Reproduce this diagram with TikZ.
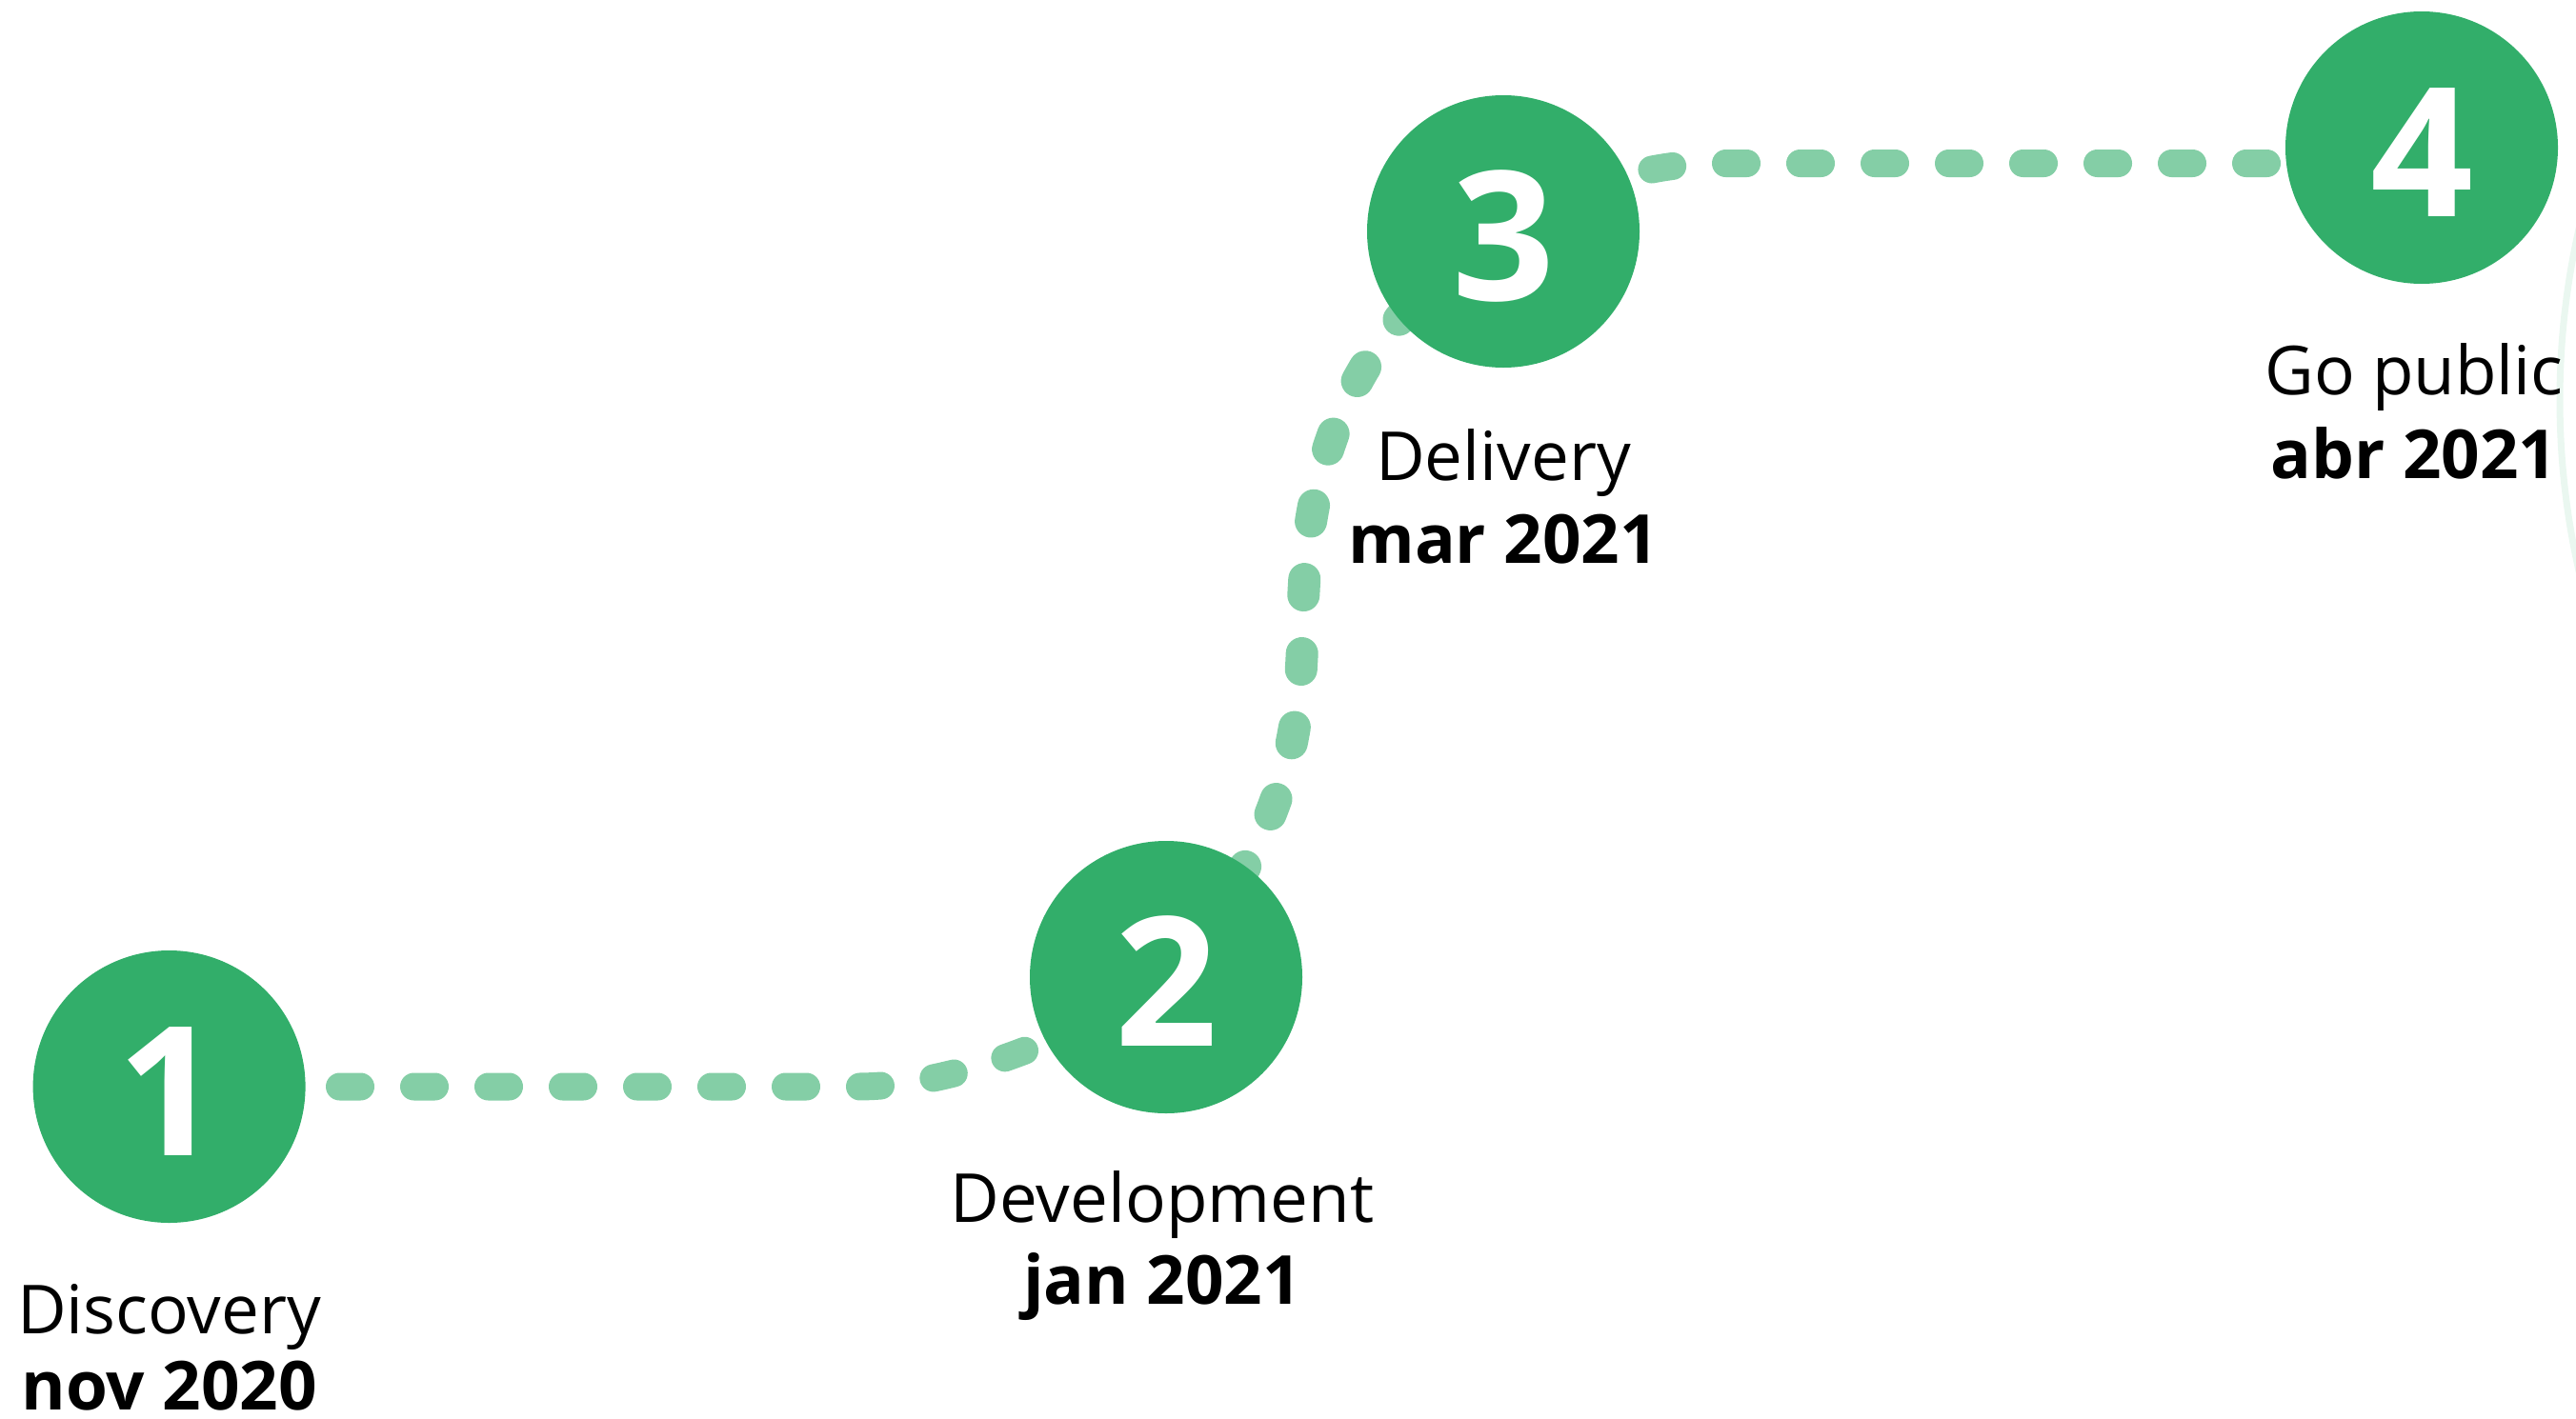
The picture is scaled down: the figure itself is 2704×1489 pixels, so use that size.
\documentclass[tikz,border=0pt]{standalone}
\usepackage{fontspec}
\setmainfont{Open Sans}
\usetikzlibrary{calc,backgrounds}
\definecolor{mygreen}{HTML}{32AE6A}
\definecolor{dashgreen}{HTML}{84CEA6}
\definecolor{faintgreen}{HTML}{EAF7F0}
\begin{document}
\begin{tikzpicture}[x=0.5pt,y=-0.5pt,
  stepcircle/.style={circle, fill=mygreen, minimum size=143pt, inner sep=0pt},
  numtxt/.style={text=white, font=\fontsize{94.5}{94.5}\selectfont\bfseries, anchor=base, inner sep=0pt},
  lbl/.style={font=\fontsize{35.5}{40}\selectfont, anchor=base, inner sep=0pt},
  datelbl/.style={font=\fontsize{35.5}{40}\selectfont\bfseries, anchor=base, inner sep=0pt},
  dashA/.style={draw=dashgreen, line width=14.5pt, line cap=round, dash pattern=on 11pt off 28pt},
  dashB/.style={draw=dashgreen, line width=17pt, line cap=round, dash pattern=on 8.5pt off 30.5pt},
  faintarc/.style={draw=faintgreen, line width=3.5pt}
]
\useasboundingbox (0,0) rectangle (2704,1489);

% steps
\node[stepcircle] (c1) at (177.6,1141) {};
\node[stepcircle] (c2) at (1224,1026) {};
\node[stepcircle] (c3) at (1578,243) {};
\node[stepcircle] (c4) at (2542,155) {};

% numbers
\node[numtxt] (n1) at ($(c1.center)+(0,72)$) {1};
\node[numtxt] (n2) at ($(c2.center)+(0,72)$) {2};
\node[numtxt] (n3) at ($(c3.center)+(0,72)$) {3};
\node[numtxt] (n4) at ($(c4.center)+(0,72)$) {4};

% labels
\node[lbl]     (t1) at ($(c1.center)+(0,259)$) {Discovery};
\node[datelbl] (d1) at ($(c1.center)+(0,339)$) {nov 2020};
\node[lbl]     (t2) at ($(c2.center)+(-4,257)$) {Development};
\node[datelbl] (d2) at ($(c2.center)+(-4,343)$) {jan 2021};
\node[lbl]     (t3) at ($(c3.center)+(0,261)$) {Delivery};
\node[datelbl] (d3) at ($(c3.center)+(0,348)$) {mar 2021};
\node[lbl]     (t4) at ($(c4.center)+(-8,259)$) {Go public};
\node[datelbl] (d4) at ($(c4.center)+(-8,347)$) {abr 2021};

\begin{scope}[on background layer]
  \begin{scope}
    \clip (0,0) rectangle (2704,1489);
    \draw[faintarc] (3496,420) circle[radius=404.5pt];
  \end{scope}
  \draw[dashA, dash phase=27.55pt] (c1.center) -- (899.6,1141)
     .. controls (1000,1141) and (1130,1090) .. (c2.center);
  \draw[dashB, dash phase=15pt] (c2.center) .. controls (1330,900) and (1366,810) .. (1367.5,655)
     .. controls (1369,500) and (1410,345) .. (c3.center);
  \draw[dashA, dash phase=35.75pt] (c4.center) ++(0,16.5) -- (1800,171.5)
     .. controls (1725,171.5) and (1645,198) .. (c3.center);
\end{scope}
\end{tikzpicture}
\end{document}
